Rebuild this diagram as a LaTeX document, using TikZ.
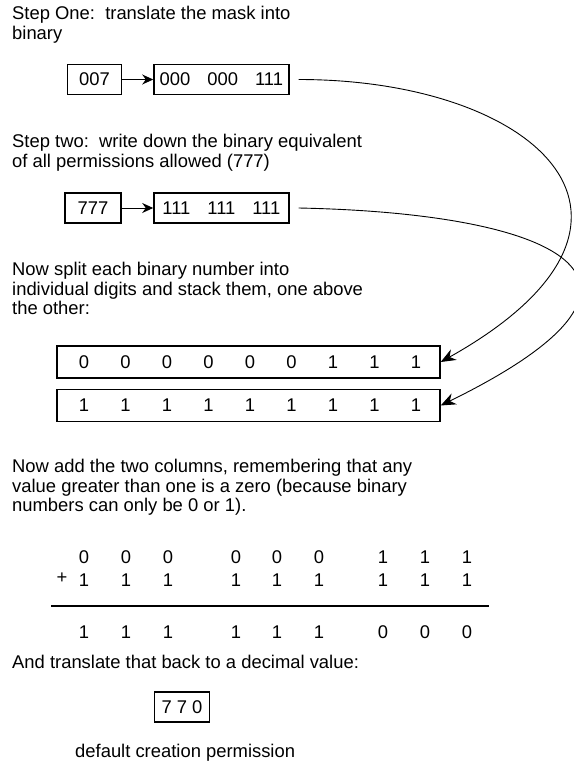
\documentclass[tikz,border=0pt]{standalone}
\usepackage{fontspec}
\setmainfont{Liberation Sans}
\usetikzlibrary{arrows.meta,positioning}

\tikzset{
  txt/.style={anchor=north west,inner sep=0pt,align=left},
  numbox/.style={draw,line width=1.4pt,minimum height=30pt,inner sep=0pt},
  arr/.style={line width=1pt,-{Stealth[length=11pt,width=10pt]}},
  curve/.style={line width=0.9pt,-{Stealth[length=15pt,width=12pt]}},
}

\begin{document}
\begin{tikzpicture}[x=1pt,y=-1pt,font=\fontsize{18.4}{19.5}\selectfont]
            \useasboundingbox (0,0) rectangle (573,776);

            % step one
            \node[txt] (one) at (12,6) {Step One:\ \ translate the mask into\\binary};
            \node[numbox,minimum width=54pt] (mask) at (94.5,79.5) {007};
            \node[numbox,minimum width=135pt,right=31pt of mask] (maskbin)
                {000\hspace{17pt}000\hspace{17pt}111};
            \draw[arr] (mask) -- (maskbin);

            % step two
            \node[txt] (two) at (12,134) {Step two:\ \ write down the binary equivalent\\of all permissions allowed (777)};
            \node[numbox,minimum width=56pt] (full) at (93,208) {777};
            \node[numbox,minimum width=135pt] (fullbin) at (maskbin.center |- full) 
                {111\hspace{17pt}111\hspace{17pt}111};
            \draw[arr] (full) -- (fullbin);

            % stack
            \node[txt] (split) at (12,262) {Now split each binary number into\\individual digits and stack them, one above\\the other:};
            \node[numbox,minimum width=383pt,minimum height=32pt] (row1) at (248.5,362) {};
            \node[numbox,minimum width=383pt,minimum height=32pt] (row2) at (248.5,405.5) {};
            \foreach \d [count=\i] in {0,0,0,0,0,0,1,1,1}
                \node (ra\i) at (42.5+41.5*\i,362) {\d};
            \foreach \i in {1,...,9}
                \node (rb\i) at (42.5+41.5*\i,405.5) {1};

            \draw[curve] ([xshift=9pt]maskbin.east) .. controls +(240,0) and +(250,-140) .. (row1.east);
            \draw[curve] ([xshift=9pt]fullbin.east) .. controls +(250,5) and +(265,-130) .. (row2.east);

            % adding
            \node[txt] (add) at (12,459) {Now add the two columns, remembering that any\\value greater than one is a zero (because binary\\numbers can only be 0 or 1).};
            \foreach \x/\a/\c [count=\i] in {84/0/1,126/0/1,168/0/1,236/0/1,277/0/1,319/0/1,383/1/0,425/1/0,467/1/0} {
                \node (sa\i) at (\x,557) {\a};
                \node (sb\i) at (\x,580) {1};
                \node (sc\i) at (\x,632) {\c};
            }
            \node (plus) at (62,578) {+};
            \draw[line width=1.6pt] (51,606) -- (489,606);

            % result
            \node[txt] (back) at (12,655) {And translate that back to a decimal value:};
            \node[numbox,minimum width=55pt] (res) at (182,707) {7 7 0};
            \node[txt] (dflt) at (75,744) {default creation permission};
        \end{tikzpicture}
\end{document}
